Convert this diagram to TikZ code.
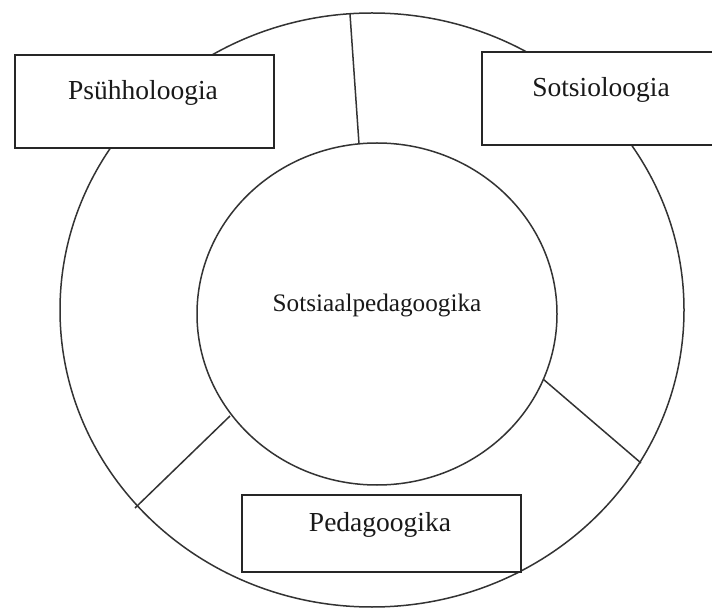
\documentclass[tikz,border=0pt]{standalone}
\usepackage{fontspec}
\setmainfont{Liberation Serif}
\usetikzlibrary{shapes.geometric}
\begin{document}
\begin{tikzpicture}[x=1pt,y=-1pt,
  ln/.style={draw=black!80,line width=1.5pt},
  boxstyle/.style={rectangle,draw=black!85,line width=1.8pt,fill=white,inner sep=0pt},
  lbl/.style={inner sep=0pt,text=black!90,font=\fontsize{27.5}{30}\selectfont},
  clbl/.style={inner sep=0pt,text=black!90,font=\fontsize{25.2}{28}\selectfont}]
\useasboundingbox (0,0) rectangle (712,609);
\clip (0,0) rectangle (712,609);
\fill[white] (0,0) rectangle (712,609);
% rings
\node[ellipse,ln,inner sep=0pt,minimum width=624pt,minimum height=594pt] (outer) at (372,310) {};
\node[ellipse,ln,inner sep=0pt,minimum width=360pt,minimum height=342pt] (inner) at (377,314) {};
% dividing lines
\coordinate (t1) at (350,14);
\coordinate (t2) at (359,144);
\coordinate (r1) at (543,379);
\coordinate (r2) at (641,463);
\coordinate (l1) at (230,416);
\coordinate (l2) at (135,508);
\draw[ln] (t1) -- (t2);
\draw[ln] (r1) -- (r2);
\draw[ln] (l1) -- (l2);
% boxes
\node[boxstyle,minimum width=259pt,minimum height=93pt] (psbox) at (144.5,101.5) {};
\node[boxstyle,minimum width=238pt,minimum height=93pt] (sobox) at (601,98.5) {};
\node[boxstyle,minimum width=279pt,minimum height=77pt] (pebox) at (381.5,533.5) {};
% labels
\node[lbl] (ps) at (143,93) {Psühholoogia};
\node[lbl] (so) at (601,90) {Sotsioloogia};
\node[lbl] (pe) at (380,525) {Pedagoogika};
\node[clbl] (sp) at (377,305) {Sotsiaalpedagoogika};
\end{tikzpicture}
\end{document}
